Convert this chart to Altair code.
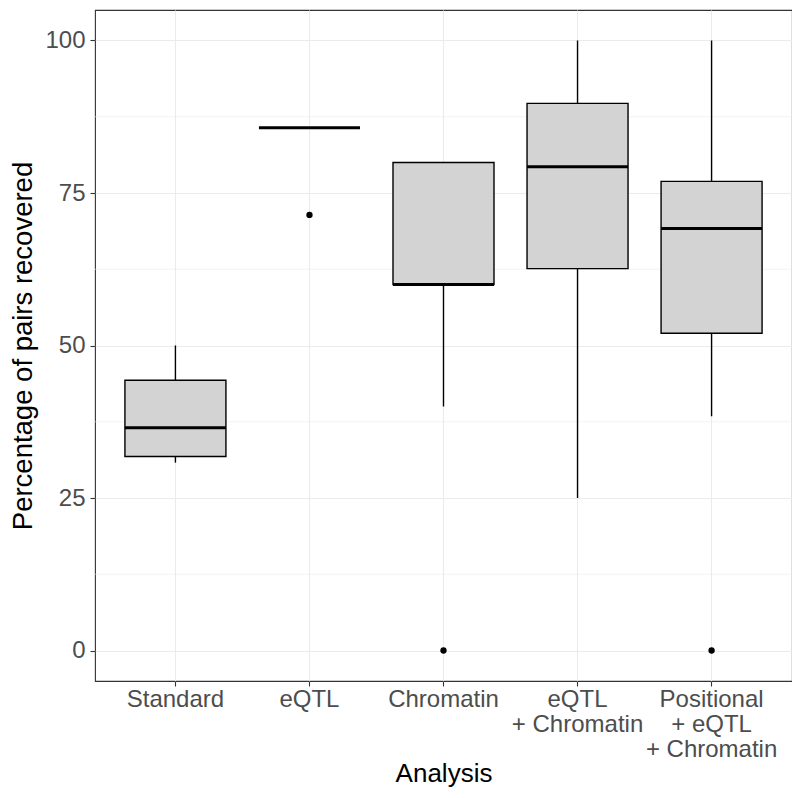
import altair as alt
import pandas as pd

categories = ["Standard", "eQTL", "Chromatin", "eQTL\n+ Chromatin", "Positional\n+ eQTL\n+ Chromatin"]
lower = [30.8, 85.7, 40.0, 25.0, 38.4]
q1 = [31.8, 85.7, 60.0, 62.6, 52.0]
median = [36.5, 85.7, 60.0, 79.3, 69.2]
q3 = [44.3, 85.7, 80.0, 89.7, 76.9]
upper = [50.0, 85.7, 80.0, 100.0, 100.0]
outlier_cat = ["eQTL", "Chromatin", "Positional\n+ eQTL\n+ Chromatin"]
outlier_val = [71.4, 0.0, 0.0]
minor_grid = [12.5, 37.5, 62.5, 87.5]

box = pd.DataFrame({"cat": categories, "lower": lower, "q1": q1, "median": median, "q3": q3, "upper": upper})
out = pd.DataFrame({"cat": outlier_cat, "val": outlier_val})
minor = pd.DataFrame({"y": minor_grid})

W, H = 697, 671
FONT = "Liberation Sans"

xaxis = alt.Axis(
    bandPosition=0.5, labelExpr="split(datum.label, '\\n')", labelAngle=0,
    labelFontSize=24, labelColor="#4D4D4D", labelFont=FONT,
    labelLineHeight=25, labelPadding=1, labelBaseline="top",
    tickSize=5, tickColor="#333333", tickWidth=1.1,
    grid=True, gridColor="#EBEBEB", gridWidth=1.1, domain=False,
    titleFontSize=26, titleFont=FONT, titleFontWeight="normal",
    titleColor="black", titleY=100, titleBaseline="alphabetic",
)
xscale = alt.Scale(domain=categories, paddingInner=0, paddingOuter=0.1)


def xenc():
    return alt.X("cat:N", sort=categories, title="Analysis", scale=xscale, axis=xaxis)


yscale = alt.Scale(domain=[-5, 105], nice=False, zero=False)
yaxis = alt.Axis(
    values=[0, 25, 50, 75, 100], labelFontSize=24, labelColor="#4D4D4D",
    labelFont=FONT, labelPadding=5,
    tickSize=5, tickColor="#333333", tickWidth=1.1,
    grid=True, gridColor="#EBEBEB", gridWidth=1.1, domain=False,
    titleFontSize=27.5, titleFont=FONT, titleFontWeight="normal",
    titleColor="black", titleX=-72, titleY=H / 2, titleAngle=270,
    titleAlign="center", titleBaseline="middle",
)
YT = "Percentage of pairs recovered"

minor_layer = alt.Chart(minor).mark_rule(color="#EBEBEB", strokeWidth=0.6).encode(
    y=alt.Y("y:Q", scale=yscale, axis=yaxis, title=YT)
)

base = alt.Chart(box)
whisk = base.mark_rule(color="black", strokeWidth=1.4).encode(
    x=xenc(),
    y=alt.Y("lower:Q", scale=yscale, axis=yaxis, title=YT),
    y2="upper:Q",
)
bars = base.mark_bar(size=101, fill="#D3D3D3", stroke="black", strokeWidth=1.4).encode(
    x=xenc(),
    y=alt.Y("q1:Q", scale=yscale, axis=yaxis, title=YT),
    y2="q3:Q",
)
med = base.mark_tick(size=101, thickness=3, color="black", opacity=1).encode(
    x=xenc(),
    y=alt.Y("median:Q", scale=yscale, axis=yaxis, title=YT),
)
pts = alt.Chart(out).mark_circle(size=40, color="black", opacity=1).encode(
    x=xenc(),
    y=alt.Y("val:Q", scale=yscale, axis=yaxis, title=YT),
)

chart = alt.layer(minor_layer, whisk, bars, med, pts).properties(
    width=W, height=H,
    background="white",
    autosize=alt.AutoSizeParams(type="none"),
    padding={"left": 87, "top": 2, "right": 0, "bottom": 109},
).configure_view(stroke="#333333", strokeWidth=1.1)

chart.save("out.html", embed_options={"renderer": "svg", "actions": False})
